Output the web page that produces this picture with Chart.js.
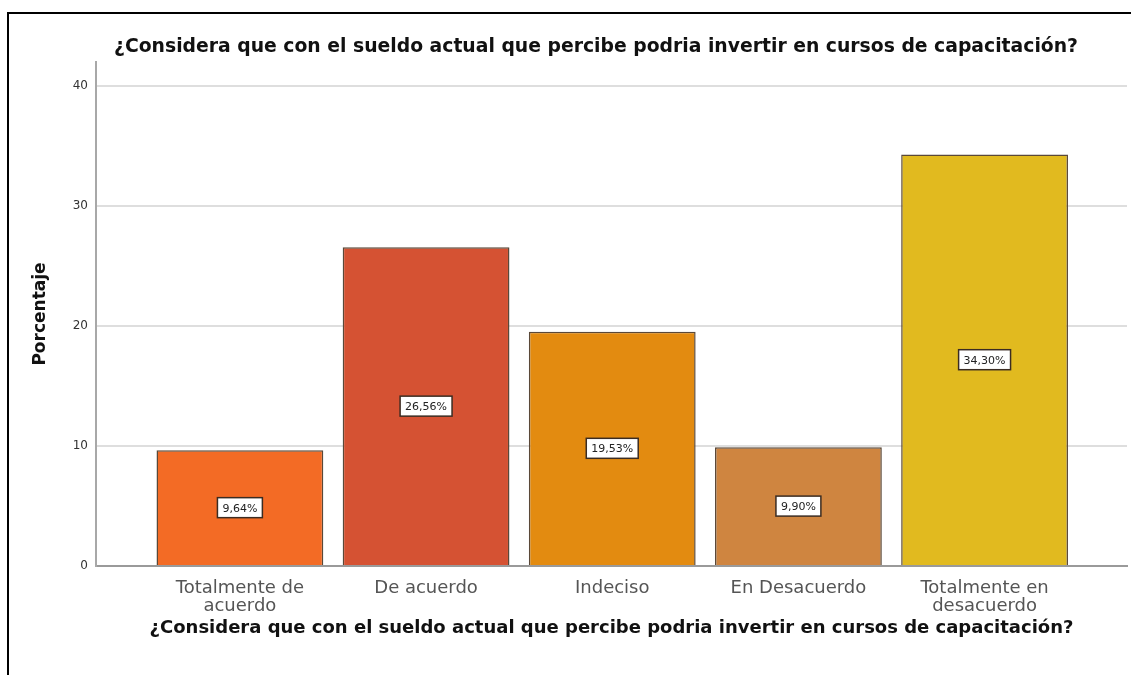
<!DOCTYPE html>
<html>
<head>
<meta charset="utf-8">
<script src="https://cdn.jsdelivr.net/npm/chart.js@4.4.0/dist/chart.umd.min.js"></script>
<style>
body { margin: 0; background: #fff; }
#wrap { position: relative; width: 1131px; height: 675px; overflow: hidden; }
#frame { position: absolute; left: 7px; top: 12px; width: 1200px; height: 700px; border-left: 2px solid #000; border-top: 2px solid #000; }
#myBarChart { position: absolute; left: 0; top: 0; }
</style>
</head>
<body>
<div id="wrap">
  <div id="frame"></div>
  <canvas id="myBarChart" width="1131" height="675"></canvas>
</div>
<script>
var titulo = "¿Considera que con el sueldo actual que percibe podria invertir en cursos de capacitación?";
var categorias = [["Totalmente de", "acuerdo"], "De acuerdo", "Indeciso", "En Desacuerdo", ["Totalmente en", "desacuerdo"]];
var porcentajes = [9.64, 26.56, 19.53, 9.90, 34.30];
var etiquetas = ["9,64%", "26,56%", "19,53%", "9,90%", "34,30%"];
var ticksY = [0, 10, 20, 30, 40];
var colores = ['#F36B25', '#D55233', '#E38B10', '#CF8540', '#E1BA1F'];

// titulo de arriba (va algo corrido a la izquierda del eje)
var encabezado = {
    id: 'encabezado',
    afterDraw: function (chart) {
        var ctx = chart.ctx;
        ctx.save();
        ctx.font = 'bold 18.8px "DejaVu Sans"';
        ctx.fillStyle = '#111';
        ctx.textAlign = 'center';
        ctx.textBaseline = 'middle';
        ctx.fillText(titulo, 596, 47);
        ctx.restore();
    }
};

// cajitas con el porcentaje en el medio de cada barra
var cajitas = {
    id: 'cajitas',
    afterDatasetsDraw: function (chart) {
        var ctx = chart.ctx;
        chart.getDatasetMeta(0).data.forEach(function (bar, i) {
            var cx = bar.x;
            var cy = (bar.y + bar.base) / 2;
            ctx.save();
            ctx.font = '11px "DejaVu Sans"';
            var w = ctx.measureText(etiquetas[i]).width + 10;
            var h = 20;
            ctx.fillStyle = '#fff';
            ctx.fillRect(cx - w / 2, cy - h / 2, w, h);
            ctx.strokeStyle = '#3b2c22';
            ctx.lineWidth = 1.5;
            ctx.strokeRect(cx - w / 2, cy - h / 2, w, h);
            ctx.fillStyle = '#222';
            ctx.textAlign = 'center';
            ctx.textBaseline = 'middle';
            ctx.fillText(etiquetas[i], cx, cy + 1);
            ctx.restore();
        });
    }
};

var ctx = document.getElementById("myBarChart");
var myBarChart = new Chart(ctx, {
    type: 'bar',
    data: {
        datasets: [{
            data: porcentajes.map(function (v, i) { return { x: i, y: v }; }),
            backgroundColor: colores,
            borderColor: '#5a4838',
            borderWidth: 1.5,
            barPercentage: 0.896,
            categoryPercentage: 1
        }]
    },
    plugins: [encabezado, cajitas],
    options: {
        responsive: false,
        animation: false,
        layout: {
            padding: { top: 62, left: 14, right: 4, bottom: 20 }
        },
        plugins: {
            legend: { display: false },
            tooltip: { enabled: false }
        },
        scales: {
            x: {
                type: 'linear',
                offset: false,
                min: -0.773,
                max: 4.765,
                grid: { display: false, drawTicks: false },
                border: { color: '#9a9a9a', width: 2 },
                afterFit: function (axis) { axis.height = 89; },
                ticks: {
                    stepSize: 1,
                    includeBounds: false,
                    autoSkip: false,
                    maxRotation: 0,
                    padding: 13,
                    color: '#555',
                    font: { family: 'DejaVu Sans', size: 18, lineHeight: 1 },
                    callback: function (value) {
                        return Number.isInteger(value) ? categorias[value] : '';
                    }
                },
                title: {
                    display: true,
                    text: titulo,
                    color: '#111',
                    font: { family: 'DejaVu Sans', size: 18, weight: 'bold' },
                    padding: { top: 0, bottom: 16 }
                }
            },
            y: {
                min: 0,
                max: 42,
                grid: {
                    drawTicks: false,
                    color: '#dedede',
                    lineWidth: 2
                },
                border: { color: '#a8a8a8', width: 2 },
                afterFit: function (axis) { axis.width = 82; },
                afterBuildTicks: function (axis) {
                    axis.ticks = ticksY.map(function (v) { return { value: v }; });
                },
                ticks: {
                    padding: 8,
                    color: '#333',
                    font: { family: 'DejaVu Sans', size: 12 }
                },
                title: {
                    display: true,
                    text: 'Porcentaje',
                    color: '#111',
                    font: { family: 'DejaVu Sans', size: 17, weight: 'bold' },
                    padding: { top: 16, bottom: 0 }
                }
            }
        }
    }
});
</script>
</body>
</html>
